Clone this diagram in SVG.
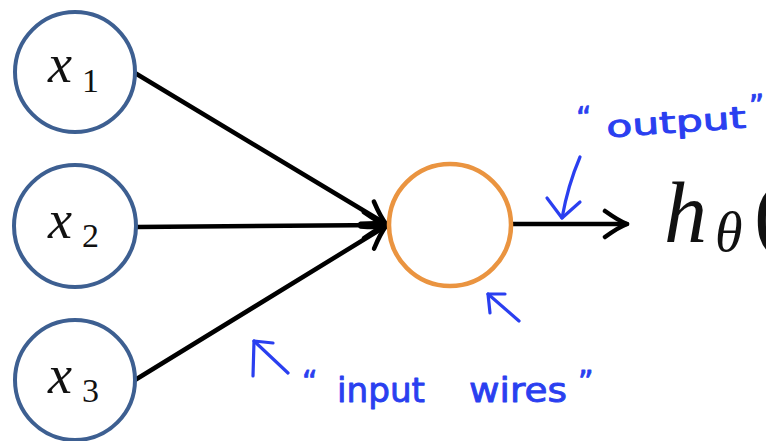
<svg xmlns="http://www.w3.org/2000/svg" width="766" height="441" viewBox="0 0 766 441">
  <style>
    .in { fill: #fff; stroke: #3d5f91; stroke-width: 4; }
    .unit { fill: #fff; stroke: #ea9440; stroke-width: 4.5; }
    .wire { fill: none; stroke: #000; stroke-width: 4.5; stroke-linecap: round; }
    .math { font-family: 'Liberation Serif', 'Times New Roman', serif; fill: #111; }
    .ink { fill: none; stroke: #2a3ff0; stroke-width: 3.2; stroke-linecap: round; stroke-linejoin: round; }
    .note { font-family: 'DejaVu Sans', 'Liberation Sans', sans-serif; fill: #2a3ff0; stroke: #2a3ff0; stroke-width: 0.9; stroke-linejoin: round; }
  </style>
  <defs>
    <marker id="head" markerUnits="userSpaceOnUse" viewBox="-26 -16 30 32" markerWidth="30" markerHeight="32" refX="0" refY="0" orient="auto">
      <path d="M-22,-13 Q-8,-3 0,0 Q-8,3 -22,13" fill="none" stroke="#000" stroke-width="4.5" stroke-linecap="round" stroke-linejoin="round"/>
    </marker>
  </defs>
  <rect width="766" height="441" fill="#fff"/>

  <!-- connectors -->
  <g id="connectors">
    <line class="wire" x1="135" y1="73" x2="386" y2="224" marker-end="url(#head)"/>
    <line class="wire" x1="137" y1="227" x2="386" y2="225" marker-end="url(#head)"/>
    <line class="wire" x1="135" y1="380" x2="386" y2="226" marker-end="url(#head)"/>
    <line class="wire" x1="513" y1="224" x2="627" y2="224" marker-end="url(#head)"/>
  </g>

  <!-- input nodes -->
  <g id="x1">
    <circle class="in" cx="75" cy="72" r="60"/>
    <text class="math" x="48" y="82" font-size="54" font-style="italic">x</text>
    <text class="math" x="82" y="92" font-size="34">1</text>
  </g>
  <g id="x2">
    <circle class="in" cx="75" cy="226" r="61"/>
    <text class="math" x="48" y="238" font-size="54" font-style="italic">x</text>
    <text class="math" x="82" y="247" font-size="34">2</text>
  </g>
  <g id="x3">
    <circle class="in" cx="75" cy="380" r="60"/>
    <text class="math" x="48" y="393" font-size="54" font-style="italic">x</text>
    <text class="math" x="82" y="402" font-size="34">3</text>
  </g>

  <!-- neuron -->
  <g id="neuron">
    <circle class="unit" cx="450" cy="225" r="61"/>
  </g>

  <!-- hypothesis output -->
  <g id="output">
    <text class="math" x="664" y="242" font-size="86" font-style="italic">h</text>
    <text class="math" x="715" y="251" font-size="56" font-style="italic">θ</text>
    <text class="math" x="754" y="242" font-size="86">(</text>
  </g>

  <!-- handwritten annotations -->
  <g id="note-output" transform="rotate(-4 670 120)">
    <text class="note" x="577" y="122" font-size="30">“</text>
    <text class="note" x="606" y="133" font-size="30" textLength="140" lengthAdjust="spacingAndGlyphs">output</text>
    <text class="note" x="750" y="122" font-size="30">”</text>
  </g>
  <g id="arrow-output">
    <path class="ink" d="M580,157 Q568,185 562,218"/>
    <path class="ink" d="M547,198 L562,218 L580,202"/>
  </g>
  <g id="note-neuron">
    <path class="ink" d="M519,321 L488,294"/>
    <path class="ink" d="M505,294 L488,294 L490,313"/>
  </g>
  <g id="note-inputs">
    <path class="ink" d="M288,373 L254,341"/>
    <path class="ink" d="M273,343 L254,341 L253,376"/>
    <text class="note" x="302" y="392" font-size="30">“</text>
    <text class="note" x="337" y="402" font-size="34" textLength="88" lengthAdjust="spacingAndGlyphs">input</text>
    <text class="note" x="469" y="402" font-size="34" textLength="98" lengthAdjust="spacingAndGlyphs">wires</text>
    <text class="note" x="578" y="392" font-size="30">”</text>
  </g>
</svg>
